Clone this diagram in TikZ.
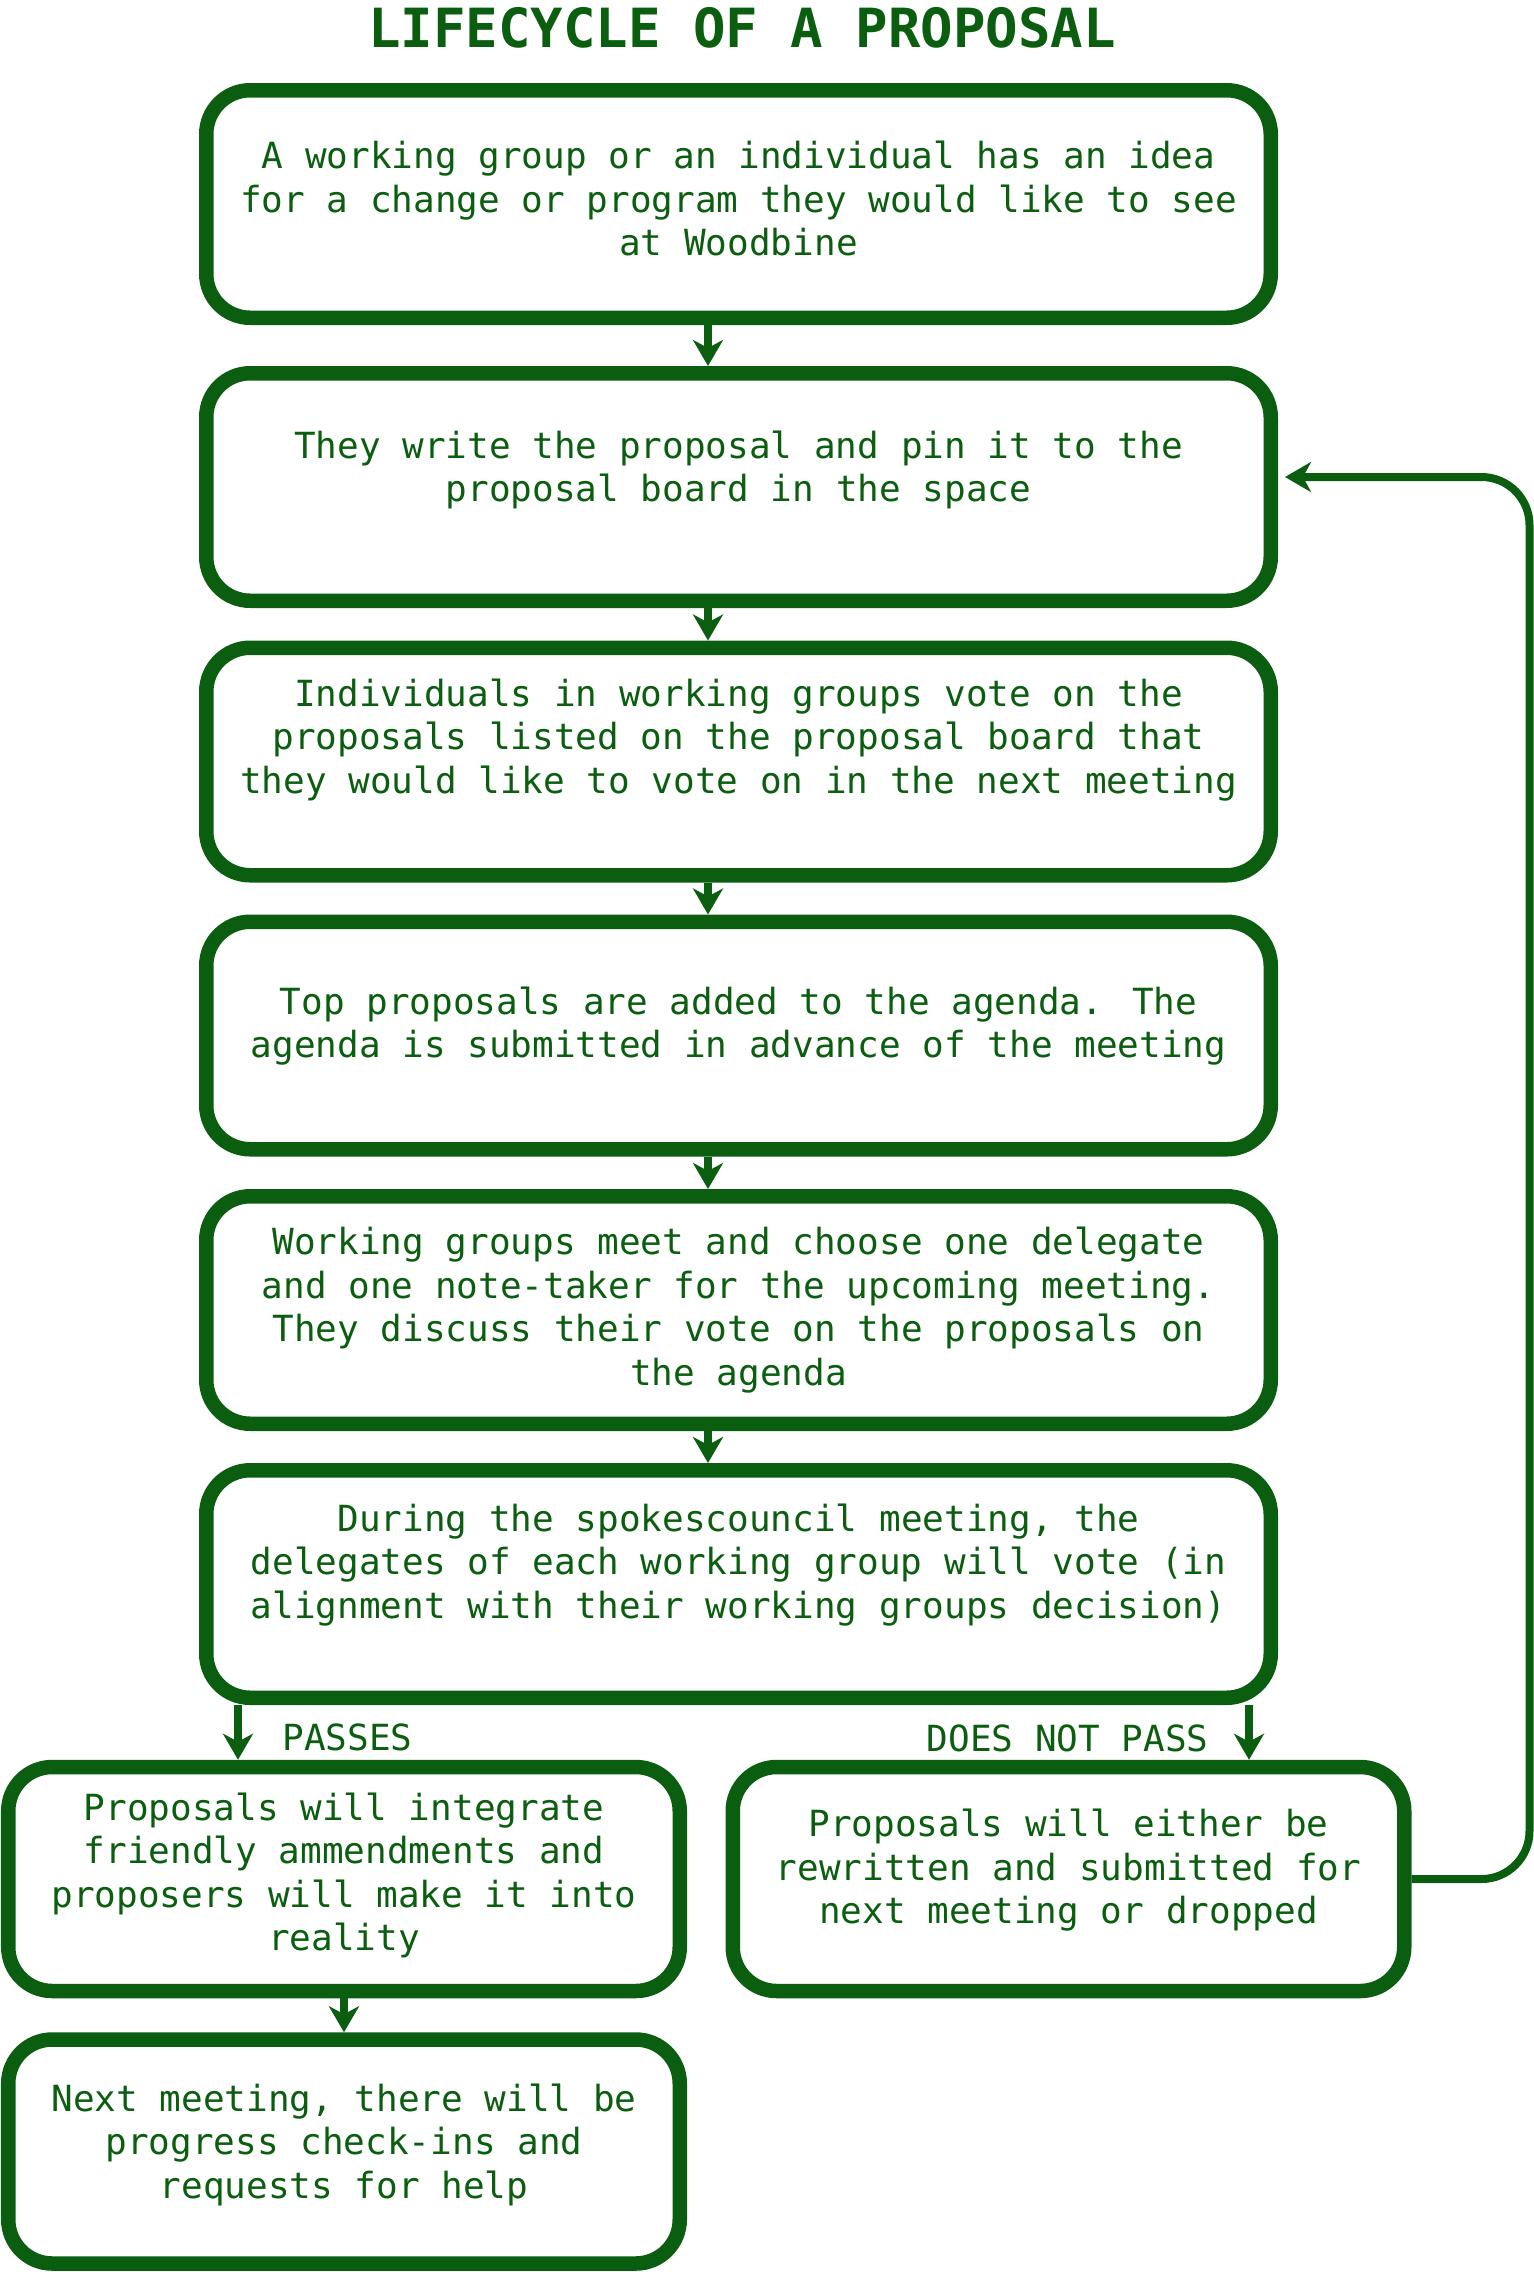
\documentclass[tikz,border=0pt]{standalone}
\usepackage{fontspec}
\usetikzlibrary{arrows.meta}
\newfontfamily\flowfont{DejaVu Sans Mono}
\definecolor{leaf}{RGB}{11,94,15}

\begin{document}
\begin{tikzpicture}[x=0.5pt, y=-0.5pt,
    stage/.style={draw=leaf, line width=7.25pt, rounded corners=22pt,
                  minimum width=532.25pt, minimum height=113.75pt, inner sep=0pt},
    branch/.style={stage, minimum width=335.75pt, minimum height=112pt},
    words/.style={text=leaf, font=\flowfont\fontsize{18}{21.75}\selectfont,
                  align=center, inner sep=0pt},
    flow/.style={leaf, line width=4pt, -{Stealth[length=13pt, width=15pt, inset=4pt]}}]
    \useasboundingbox (0,0) rectangle (1534,2272);

    % Title
    \node[text=leaf, font=\flowfont\bfseries\fontsize{27}{30}\selectfont, anchor=base]
        (title) at (742,47) {LIFECYCLE OF A PROPOSAL};

    % Main column of stages
    \node[stage] (b1) at (738.5,204) {};
    \node[stage] (b2) at (738.5,487) {};
    \node[stage] (b3) at (738.5,761.5) {};
    \node[stage] (b4) at (738.5,1035.5) {};
    \node[stage] (b5) at (738.5,1310) {};
    \node[stage] (b6) at (738.5,1584) {};

    % Outcome boxes
    \node[branch] (b7) at (344,1879) {};
    \node[branch] (b8) at (1068.5,1879) {};
    \node[branch] (b9) at (344,2151.5) {};

    % Stage texts
    \node[words] (t1) at ([yshift=2.6pt]b1.center) {A working group or an individual has an idea\\for a change or program they would like to see\\at Woodbine};
    \node[words] (t2) at ([yshift=8.4pt]b2.center) {They write the proposal and pin it to the\\proposal board in the space};
    \node[words] (t3) at ([yshift=10.75pt]b3.center) {Individuals in working groups vote on the\\proposals listed on the proposal board that\\they would like to vote on in the next meeting};
    \node[words] (t4) at ([yshift=4.75pt]b4.center) {Top proposals are added to the agenda. The\\agenda is submitted in advance of the meeting};
    \node[words] (t5) at (b5.center) {Working groups meet and choose one delegate\\and one note-taker for the upcoming meeting.\\They discuss their vote on the proposals on\\the agenda};
    \node[words] (t6) at ([yshift=9.6pt]b6.center) {During the spokescouncil meeting, the\\delegates of each working group will vote (in\\alignment with their working groups decision)};
    \node[words] (t7) at ([yshift=1.75pt]b7.center) {Proposals will integrate\\friendly ammendments and\\proposers will make it into\\reality};
    \node[words] (t8) at ([yshift=4.25pt]b8.center) {Proposals will either be\\rewritten and submitted for\\next meeting or dropped};
    \node[words] (t9) at ([yshift=3.5pt]b9.center) {Next meeting, there will be\\progress check-ins and\\requests for help};

    % Arrows down the main column
    \foreach \a/\b in {b1/b2,b2/b3,b3/b4,b4/b5,b5/b6} {
        \draw[flow] ([xshift=-15.25pt]\a.south) -- ([xshift=-15.25pt]\b.north);
    }

    % Vote outcome
    \coordinate (p7) at ([xshift=-53pt]b7.north);
    \coordinate (p8) at ([xshift=90.25pt]b8.north);
    \draw[flow] (p7 |- b6.south) -- (p7);
    \draw[flow] (p8 |- b6.south) -- (p8);
    \node[words, anchor=base west] (passes) at (282,1750) {PASSES};
    \node[words, anchor=base east] (nopass) at (1209,1751) {DOES NOT PASS};

    \draw[flow] (b7.south) -- (b9.north);

    % Back to the proposal board
    \draw[flow, rounded corners=24pt] (b8.east) -- ++(59pt,0) |- ([xshift=3.5pt,yshift=5pt]b2.east);
\end{tikzpicture}
\end{document}
